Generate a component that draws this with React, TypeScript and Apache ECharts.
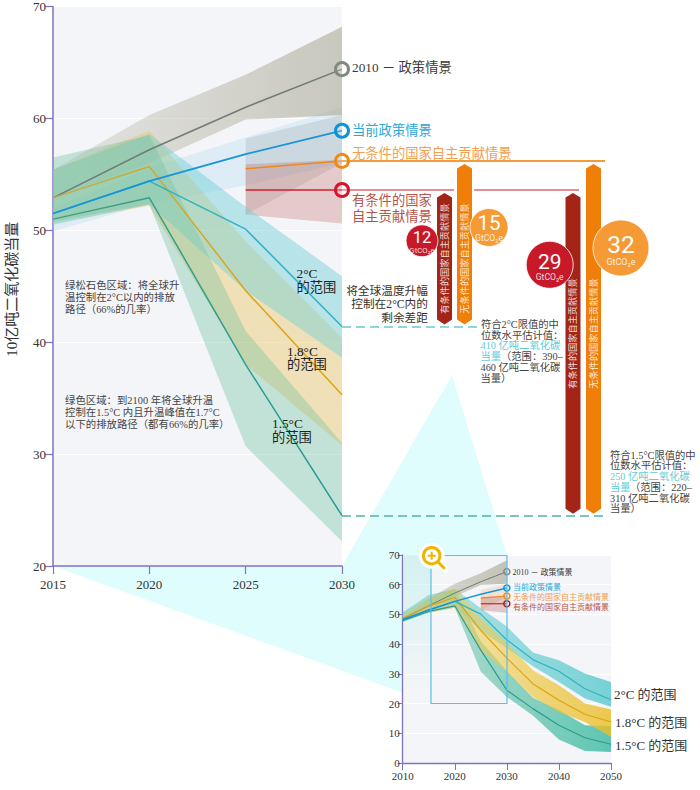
import React, { useEffect, useRef } from "react";
import * as echarts from "echarts";

const SERIF = "'Liberation Serif','Noto Sans CJK SC',serif";
const SANS = "Roboto,'Noto Sans',sans-serif";

// ---------- main panel (2015-2030) ----------
const mainYears = [2015, 2020, 2025, 2030];
const ndcYears = [2025, 2030];

const policyLine = [52.9, 57.2, 61.0, 64.4];
const policyLow = [52.9, 56.0, 59.9, 60.3];
const policyHigh = [55.4, 60.3, 63.9, 68.2];

const currentLine = [51.5, 54.4, 56.8, 58.9];
const currentLow = [49.9, 52.4, 54.0, 56.0];
const currentHigh = [52.0, 55.6, 58.3, 61.0];

const uncondLine = [55.5, 56.2];
const uncondLow = [51.4, 56.0];
const uncondHigh = [58.2, 60.3];

const condLine = [53.6, 53.6];
const condLow = [51.4, 50.6];
const condHigh = [55.9, 56.3];

const twoLine = [51.5, 54.4, 50.1, 41.4];
const twoLow = [50.5, 52.3, 44.6, 38.6];
const twoHigh = [55.4, 58.6, 52.1, 45.9];

const oneEightLine = [52.9, 55.7, 44.6, 35.3];
const oneEightLow = [50.6, 52.2, 38.0, 30.8];
const oneEightHigh = [55.4, 58.9, 49.0, 40.4];

const oneFiveLine = [51.0, 52.9, 38.0, 24.5];
const oneFiveLow = [50.8, 52.3, 30.7, 22.2];
const oneFiveHigh = [56.5, 58.5, 41.0, 31.0];

// ---------- inset panel (2010-2050) ----------
const insetPolicyYears = [2010, 2015, 2020, 2025, 2030];
const insetYears = [2010, 2015, 2020, 2025, 2030, 2035, 2040, 2045, 2050];

const insetPolicyLine = [48.6, 52.9, 57.2, 61.0, 64.4];
const insetPolicyLow = [48.4, 52.9, 56.0, 59.9, 60.3];
const insetPolicyHigh = [49.0, 55.4, 60.3, 63.9, 68.2];

const insetCurrentLine = [48.3, 51.5, 54.4, 56.8, 58.9];

const insetTwoLine = [48.2, 51.5, 54.4, 50.1, 41.4, 34.8, 30.9, 25.0, 21.3];
const insetTwoLow = [47.6, 50.5, 52.3, 44.6, 38.6, 32.6, 27.3, 21.7, 18.9];
const insetTwoHigh = [50.6, 55.4, 58.6, 52.1, 45.9, 37.2, 34.6, 30.1, 27.3];

const insetOneEightLine = [48.6, 52.9, 55.7, 44.6, 35.3, 26.7, 21.1, 16.4, 13.8];
const insetOneEightLow = [47.8, 50.6, 52.2, 38.0, 30.8, 22.2, 17.2, 13.8, 8.8];
const insetOneEightHigh = [50.0, 55.4, 58.9, 49.0, 40.4, 31.2, 26.2, 20.0, 18.0];

const insetOneFiveLine = [47.9, 51.0, 52.9, 38.0, 24.5, 18.3, 12.7, 8.5, 6.3];
const insetOneFiveLow = [47.4, 50.8, 52.3, 30.7, 22.2, 16.0, 7.9, 4.0, 3.7];
const insetOneFiveHigh = [50.8, 56.5, 58.5, 41.0, 31.0, 22.0, 17.8, 12.7, 12.4];

// ---------- gap bars ----------
const gapBarNames = ["有条件的国家自主贡献情景", "无条件的国家自主贡献情景", "有条件的国家自主贡献情景", "无条件的国家自主贡献情景"];
const gapBarTops = [53.6, 56.2, 53.6, 56.2];
const gapBarBottoms = [41.4, 41.4, 24.5, 24.5];

const c = {
  axis: "#7f72c2",
  plot: "#f4f5f8",
  gray: "#707c74",
  blue: "#1a94d6",
  orange: "#e98a1c",
  red: "#cf1f2c",
  teal: "#2fb3bf",
  yellow: "#dfa312",
  green: "#2d9d8b",
  ink: "#3a3a3a",
};

const lin = (a: string, b: string) =>
  new echarts.graphic.LinearGradient(0, 0, 1, 0, [
    { offset: 0, color: a },
    { offset: 1, color: b },
  ]);

function band(xs: number[], lows: number[], highs: number[], idx: number, fill: any) {
  return {
    type: "custom",
    xAxisIndex: idx,
    yAxisIndex: idx,
    silent: true,
    encode: { x: 0, y: [1, 2] },
    data: xs.map((x, i) => [x, lows[i], highs[i]]),
    renderItem: (params: any, api: any) => {
      if (params.dataIndex !== 0) return null;
      const upper = xs.map((x, i) => api.coord([x, highs[i]]));
      const lower = xs.map((x, i) => api.coord([x, lows[i]])).reverse();
      return { type: "polygon", shape: { points: upper.concat(lower) }, style: { fill } };
    },
  };
}

function line(xs: number[], ys: number[], idx: number, color: any, width: number) {
  return {
    type: "line",
    xAxisIndex: idx,
    yAxisIndex: idx,
    silent: true,
    symbol: "none",
    clip: false,
    lineStyle: { color, width },
    data: xs.map((x, i) => [x, ys[i]]),
  };
}

function ring(x: number, y: number, idx: number, color: string, size: number, width: number) {
  return {
    type: "scatter",
    xAxisIndex: idx,
    yAxisIndex: idx,
    silent: true,
    clip: false,
    z: 5,
    symbolSize: size,
    itemStyle: { color: "rgba(255,255,255,0.2)", borderColor: color, borderWidth: width, opacity: 1 },
    data: [[x, y]],
  };
}

const last = (a: number[]) => a[a.length - 1];

function gapBars() {
  const xs = [437, 457, 565.5, 586];
  const fills = ["#a22518", "#f07f09", "#a22518", "#f07f09"];
  const textY = [258.5, 258.5, 333.5, 333.5];
  return {
    type: "custom",
    xAxisIndex: 0,
    yAxisIndex: 0,
    silent: true,
    z: 6,
    encode: { y: [0, 1] },
    data: gapBarTops.map((t, i) => [t, gapBarBottoms[i]]),
    renderItem: (params: any, api: any) => {
      const i = params.dataIndex;
      const top = api.coord([2030, gapBarTops[i]])[1] + 3;
      const bot = api.coord([2030, gapBarBottoms[i]])[1] - 2;
      const l = xs[i];
      const r = l + 15;
      const m = l + 7.5;
      return {
        type: "group",
        children: [
          {
            type: "polygon",
            shape: { points: [[m, top], [r, top + 4.5], [r, bot - 5], [m, bot], [l, bot - 5], [l, top + 4.5]] },
            style: { fill: fills[i] },
          },
          {
            type: "text",
            x: m,
            y: textY[i],
            rotation: Math.PI / 2,
            style: {
              text: gapBarNames[i],
              fill: "rgba(255,255,255,0.85)",
              fontSize: 9.2,
              fontFamily: SERIF,
              align: "center",
              verticalAlign: "middle",
            },
          },
        ],
      };
    },
  };
}

function txt(text: string, x: number, y: number, size: number, fill: string, extra: any = {}) {
  const { align, family, weight, lineHeight } = extra;
  return {
    type: "text",
    z: 100,
    x,
    y,
    silent: true,
    style: {
      text,
      fill,
      fontSize: size,
      fontFamily: family || SERIF,
      fontWeight: weight || "normal",
      align: align || "left",
      verticalAlign: "middle",
      lineHeight: lineHeight || undefined,
    },
  };
}

function seg(x1: number, y1: number, x2: number, y2: number, stroke: string, lineWidth: number, dash?: number[]) {
  return {
    type: "line",
    z: 4,
    silent: true,
    shape: { x1, y1, x2, y2 },
    style: { stroke, lineWidth, lineDash: dash },
  };
}

function badge(cx: number, cy: number, r: number, fill: string, big: string, bigSize: number, bigY: number, smallSize: number, smallY: number) {
  return [
    {
      type: "circle",
      z: 90,
      silent: true,
      shape: { cx, cy, r },
      style: { fill, stroke: "#ffffff", lineWidth: 0.8 },
    },
    txt(big, cx, bigY, bigSize, "#ffffff", { align: "center", family: SANS }),
    txt("GtCO₂e", cx, smallY, smallSize, "rgba(255,255,255,0.85)", { align: "center", family: SANS }),
  ];
}

const cyanBlue = "#2aa7d8";
const cyanNote = "#5fcdd6";
const noteInk = "#444444";

const graphicElements: any[] = [
  // connector from the inset's zoom box to the main panel
  {
    type: "polygon",
    z: -10,
    silent: true,
    shape: { points: [[53, 566], [342, 566], [452, 375], [507, 555], [431, 703]] },
    style: { fill: "#e0fdfe" },
  },
  // tint on the part of the inset plot left of the box
  {
    type: "rect",
    z: 1,
    silent: true,
    shape: { x: 403, y: 555, width: 28, height: 140 },
    style: {
      fill: new echarts.graphic.LinearGradient(0, 0, 0, 1, [
        { offset: 0, color: "rgba(190,238,238,0.6)" },
        { offset: 1, color: "rgba(190,238,238,0)" },
      ]),
    },
  },
  // zoom box
  {
    type: "rect",
    z: 50,
    silent: true,
    shape: { x: 431, y: 555.5, width: 76, height: 148 },
    style: { fill: "none", stroke: "#5cbfe8", lineWidth: 1.2 },
  },
  // magnifier
  { type: "circle", z: 60, silent: true, shape: { cx: 431.7, cy: 555.7, r: 13 }, style: { fill: "#ffffff" } },
  { type: "line", z: 60, silent: true, shape: { x1: 438, y1: 562, x2: 445, y2: 569 }, style: { stroke: "#ffffff", lineWidth: 7, lineCap: "round" } },
  { type: "circle", z: 61, silent: true, shape: { cx: 431.7, cy: 555.7, r: 8.2 }, style: { fill: "#ffffff", stroke: "#efb400", lineWidth: 3 } },
  { type: "line", z: 61, silent: true, shape: { x1: 438, y1: 562, x2: 444, y2: 568 }, style: { stroke: "#efb400", lineWidth: 3, lineCap: "round" } },
  { type: "line", z: 61, silent: true, shape: { x1: 427.7, y1: 555.7, x2: 435.7, y2: 555.7 }, style: { stroke: "#efb400", lineWidth: 2 } },
  { type: "line", z: 61, silent: true, shape: { x1: 431.7, y1: 551.7, x2: 431.7, y2: 559.7 }, style: { stroke: "#efb400", lineWidth: 2 } },

  // leader lines
  seg(342, 161, 605, 161, "#f39a3a", 1.8),
  seg(342, 190, 454, 190, "#c8202c", 1.2),
  seg(474, 190, 579, 190, "#c8202c", 1.2),
  seg(342, 327, 478, 327, "#6ac9d4", 1.3, [9, 5]),
  seg(342, 516, 607, 516, "#4fb2a9", 1.3, [9, 5]),

  // scenario labels
  txt("2010 － 政策情景", 352, 67.5, 13.3, c.ink),
  txt("当前政策情景", 352, 130, 13.3, cyanBlue),
  txt("无条件的国家自主贡献情景", 352, 153, 13.3, "#f0a050"),
  txt("有条件的国家\n自主贡献情景", 352, 208, 13.3, "#b4544c", { lineHeight: 16 }),

  txt("将全球温度升幅\n控制在2°C内的\n剩余差距", 428, 304.8, 11.7, "#3a3028", { align: "right", lineHeight: 13.3 }),

  // notes next to the dashed lines
  txt("符合2°C限值的中\n位数水平估计值：", 481, 330, 10.3, noteInk, { lineHeight: 10.8 }),
  txt("410 亿吨二氧化碳\n当量", 480.5, 351.2, 10.3, cyanNote, { lineHeight: 10.8 }),
  txt("（范围：390–", 501, 356.5, 10.3, noteInk),
  txt("460 亿吨二氧化碳\n当量）", 480.5, 372.8, 10.3, noteInk, { lineHeight: 10.8 }),

  txt("符合1.5°C限值的中\n位数水平估计值：", 610, 460.5, 10.3, noteInk, { lineHeight: 10.8 }),
  txt("250 亿吨二氧化碳\n当量", 610, 482.2, 10.3, cyanNote, { lineHeight: 10.8 }),
  txt("（范围：220–", 630, 487.5, 10.3, noteInk),
  txt("310 亿吨二氧化碳\n当量）", 610, 503.5, 10.3, noteInk, { lineHeight: 10.8 }),

  // left notes
  txt("绿松石色区域：将全球升\n温控制在2°C以内的排放\n路径（66%的几率）", 65, 297, 10.4, noteInk, { lineHeight: 12 }),
  txt("绿色区域：到2100 年将全球升温\n控制在1.5°C 内且升温峰值在1.7°C\n以下的排放路径（都有66%的几率）", 65, 412, 10.4, noteInk, { lineHeight: 12 }),

  // band labels in the main panel
  txt("2°C\n的范围", 296.5, 280.5, 13.3, "#222222", { lineHeight: 13.5 }),
  txt("1.8°C\n的范围", 287, 358.2, 13.3, "#222222", { lineHeight: 13.5 }),
  txt("1.5°C\n的范围", 272, 430.5, 13.3, "#222222", { lineHeight: 13.5 }),

  // inset labels
  txt("2010 － 政策情景", 512.5, 572, 8, c.ink),
  txt("当前政策情景", 513, 587.5, 8, cyanBlue),
  txt("无条件的国家自主贡献情景", 513, 597, 8, "#f0a050"),
  txt("有条件的国家自主贡献情景", 513, 607, 8, "#b4544c"),
  txt("2°C 的范围", 614, 694, 13, "#333333"),
  txt("1.8°C 的范围", 615, 722, 13, "#333333"),
  txt("1.5°C 的范围", 615, 745, 13, "#333333"),

  // gap badges
  ...badge(422, 240.8, 16, "#c8192a", "12", 16.5, 237.8, 7.8, 250.2),
  ...badge(489, 227.5, 19, "#f59a35", "15", 20.5, 223, 8.6, 238),
  ...badge(549.7, 264.8, 23.5, "#c8192a", "29", 21, 262.4, 8.6, 277.4),
  ...badge(621, 248, 28, "#f59a35", "32", 24.5, 244.5, 9, 261.5),
];

const axisFont = (size: number) => ({ color: "#333333", fontFamily: "'Liberation Serif',serif", fontSize: size });

function buildOption(): any {
  return {
    animation: false,
    backgroundColor: "#ffffff",
    grid: [
      { left: 53, top: 6, width: 289, height: 560, show: true, backgroundColor: c.plot, borderWidth: 0 },
      { left: 402.7, top: 555, width: 208.3, height: 208, show: true, backgroundColor: c.plot, borderWidth: 0 },
    ],
    xAxis: [
      {
        gridIndex: 0,
        type: "value",
        min: 2015,
        max: 2030,
        interval: 5,
        axisLine: { show: true, onZero: false, lineStyle: { color: c.axis, width: 1.5 } },
        axisTick: { show: true, length: 8, lineStyle: { color: c.axis, width: 1.2 } },
        splitLine: { show: false },
        axisLabel: { ...axisFont(13), margin: 12, formatter: (v: number) => String(v) },
      },
      {
        gridIndex: 1,
        type: "value",
        min: 2010,
        max: 2050,
        interval: 10,
        axisLine: { show: true, onZero: false, lineStyle: { color: c.axis, width: 1.3 } },
        axisTick: { show: true, length: 7, lineStyle: { color: c.axis, width: 1 } },
        splitLine: { show: false },
        axisLabel: { ...axisFont(11), margin: 7, formatter: (v: number) => String(v) },
      },
    ],
    yAxis: [
      {
        gridIndex: 0,
        type: "value",
        min: 20,
        max: 70,
        interval: 10,
        name: "10亿吨二氧化碳当量",
        nameLocation: "middle",
        nameRotate: 90,
        nameGap: 34,
        nameTextStyle: { color: "#333333", fontFamily: SERIF, fontSize: 15, padding: [0, 6, 0, 0] },
        axisLine: { show: true, onZero: false, lineStyle: { color: c.axis, width: 1.5 } },
        axisTick: { show: true, length: 8, lineStyle: { color: c.axis, width: 1.2 } },
        splitLine: { show: true, lineStyle: { color: "#ffffff", width: 1 } },
        axisLabel: { ...axisFont(13), margin: 7 },
      },
      {
        gridIndex: 1,
        type: "value",
        min: 0,
        max: 70,
        interval: 10,
        axisLine: { show: true, onZero: false, lineStyle: { color: c.axis, width: 1.3 } },
        axisTick: { show: true, length: 5, lineStyle: { color: c.axis, width: 1 } },
        splitLine: { show: true, lineStyle: { color: "#ffffff", width: 1 } },
        axisLabel: { ...axisFont(11), margin: 3 },
      },
    ],
    graphic: { elements: graphicElements },
    series: [
      // main panel bands
      band(mainYears, currentLow, currentHigh, 0, "rgba(170,215,240,0.3)"),
      band(mainYears, policyLow, policyHigh, 0, lin("rgba(180,178,165,0.28)", "rgba(165,162,140,0.55)")),
      band(ndcYears, uncondLow, uncondHigh, 0, "rgba(130,125,125,0.18)"),
      band(ndcYears, condLow, condHigh, 0, "rgba(190,90,85,0.27)"),
      band(mainYears, oneEightLow, oneEightHigh, 0, "rgba(232,200,105,0.45)"),
      band(mainYears, twoLow, twoHigh, 0, "rgba(110,208,214,0.45)"),
      band(mainYears, oneFiveLow, oneFiveHigh, 0, "rgba(115,195,160,0.38)"),
      // main panel lines
      line(mainYears, policyLine, 0, c.gray, 1.5),
      line(mainYears, oneEightLine, 0, lin("#c2ab4a", "#e6a30a"), 1.5),
      line(mainYears, twoLine, 0, c.teal, 1.5),
      line(mainYears, oneFiveLine, 0, lin("#45a080", "#1f9c96"), 1.5),
      line(mainYears, currentLine, 0, c.blue, 1.8),
      line(ndcYears, uncondLine, 0, c.orange, 1.5),
      line(ndcYears, condLine, 0, c.red, 1.5),
      ring(2030, last(policyLine), 0, "#7c8a80", 13, 3),
      ring(2030, last(currentLine), 0, "#0f93d6", 13, 3),
      ring(2030, last(uncondLine), 0, "#f08a12", 13, 3),
      ring(2030, last(condLine), 0, "#d9132a", 13, 3),
      gapBars(),
      // inset bands
      band(insetPolicyYears, insetPolicyLow, insetPolicyHigh, 1, lin("rgba(180,178,165,0.4)", "rgba(165,162,140,0.6)")),
      band(ndcYears, uncondLow, uncondHigh, 1, "rgba(235,170,110,0.25)"),
      band(ndcYears, condLow, condHigh, 1, "rgba(190,90,85,0.3)"),
      band(insetYears, insetOneFiveLow, insetOneFiveHigh, 1, lin("rgba(100,190,160,0.4)", "rgba(55,185,160,0.8)")),
      band(insetYears, insetTwoLow, insetTwoHigh, 1, lin("rgba(95,205,210,0.42)", "rgba(70,195,200,0.72)")),
      band(insetYears, insetOneEightLow, insetOneEightHigh, 1, lin("rgba(240,210,100,0.42)", "rgba(235,190,40,0.82)")),
      // inset lines
      line(insetPolicyYears, insetPolicyLine, 1, c.gray, 1),
      line(insetYears, insetOneEightLine, 1, c.yellow, 1.2),
      line(insetYears, insetTwoLine, 1, c.teal, 1.2),
      line(insetYears, insetOneFiveLine, 1, c.green, 1.2),
      line(insetPolicyYears, insetCurrentLine, 1, c.blue, 1.4),
      line(ndcYears, uncondLine, 1, c.orange, 1.2),
      line(ndcYears, condLine, 1, "#b5302c", 1.2),
      ring(2030, last(insetPolicyLine), 1, "#7c8a80", 6, 1.5),
      ring(2030, last(insetCurrentLine), 1, "#0f93d6", 6, 1.5),
      ring(2030, last(uncondLine), 1, "#f08a12", 6, 1.5),
      ring(2030, last(condLine), 1, "#a51c24", 6, 1.5),
    ],
  };
}

export default function App() {
  const ref = useRef<HTMLDivElement>(null);
  useEffect(() => {
    const chart = echarts.init(ref.current as HTMLDivElement, undefined, { renderer: "svg" });
    chart.setOption(buildOption());
    return () => chart.dispose();
  }, []);
  return <div ref={ref} style={{ position: "absolute", left: 0, top: 0, width: 700, height: 790 }} />;
}
